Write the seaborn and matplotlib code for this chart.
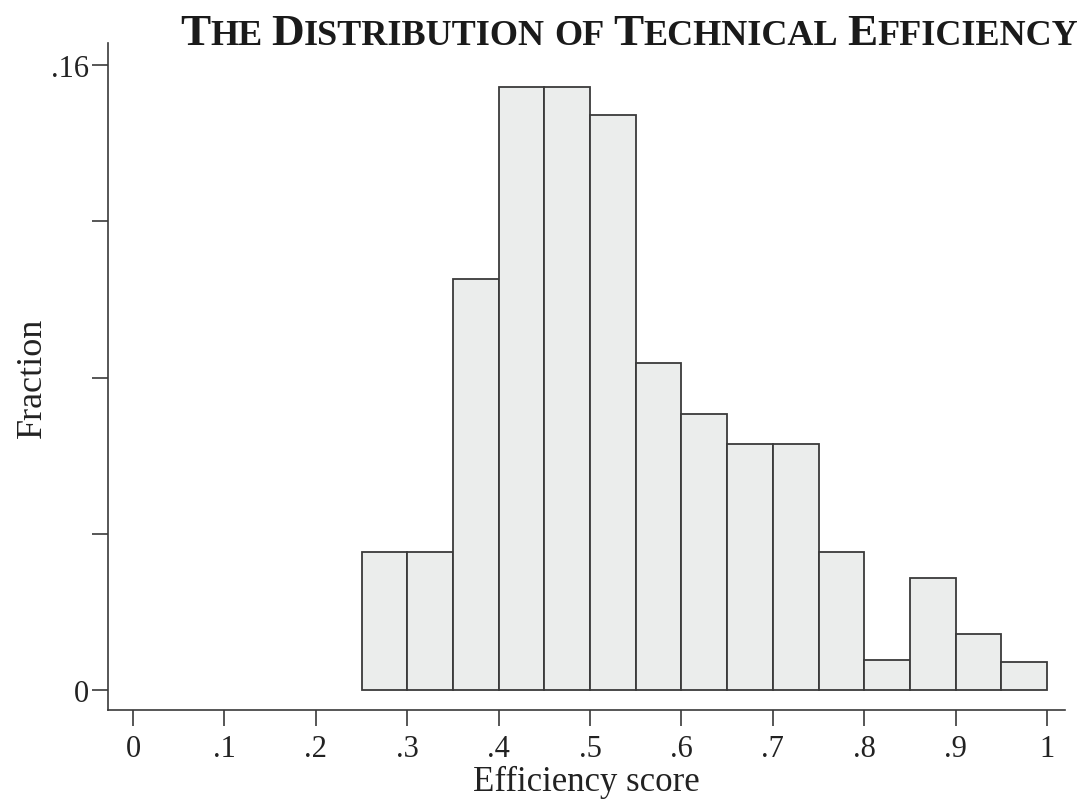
import matplotlib
matplotlib.use("Agg")
import matplotlib.pyplot as plt
import seaborn as sns
import numpy as np

# Data (fraction per bin, bin width .05)
bin_left = [0.25, 0.30, 0.35, 0.40, 0.45, 0.50, 0.55, 0.60, 0.65, 0.70, 0.75, 0.80, 0.85, 0.90, 0.95]
fraction = [0.0353, 0.0353, 0.1052, 0.1544, 0.1544, 0.1472, 0.0837, 0.0707, 0.0630, 0.0630,
            0.0353, 0.0077, 0.0287, 0.0143, 0.0072]
bin_width = 0.05
xtick_vals = [0, 0.1, 0.2, 0.3, 0.4, 0.5, 0.6, 0.7, 0.8, 0.9, 1.0]
xtick_labels = ["0", ".1", ".2", ".3", ".4", ".5", ".6", ".7", ".8", ".9", "1"]
ytick_vals = [0, 0.04, 0.08, 0.12, 0.16]
ytick_labels = ["0", "", "", "", ".16"]
title_words = ["The", "Distribution", "of", "Technical", "Efficiency"]

sns.set_theme(style="ticks")
plt.rcParams["font.family"] = ["Liberation Serif", "DejaVu Serif"]

W, H = 1083, 803
fig = plt.figure(figsize=(W / 100, H / 100), dpi=100)
ax = fig.add_axes([108 / W, 1 - 711 / H, (1065 - 108) / W, (711 - 44) / H])

centers = [b + bin_width / 2 for b in bin_left]
edges = [bin_left[0] + i * bin_width for i in range(len(bin_left) + 1)]
sns.histplot(x=centers, weights=fraction, bins=edges, ax=ax, stat="count",
             color="#ebedec", edgecolor="#3a3a3a", linewidth=1.3, alpha=1)

x0 = (108 - 133) / 914
x1 = (1065 - 133) / 914
ax.set_xlim(x0, x1)
ax.set_ylim((691 - 711) / 3906.25, (691 - 44) / 3906.25)

ax.set_xticks(xtick_vals)
ax.set_xticklabels(xtick_labels)
ax.set_yticks(ytick_vals)
ax.set_yticklabels(ytick_labels)
ax.tick_params(axis="both", direction="out", length=11.5, width=1.2, colors="#3a3a3a",
               labelsize=22, labelcolor="#222222")
ax.tick_params(axis="x", pad=6)
ax.tick_params(axis="y", pad=2.5)
for s in ["top", "right"]:
    ax.spines[s].set_visible(False)
for s in ["left", "bottom"]:
    ax.spines[s].set_linewidth(1.2)
    ax.spines[s].set_color("#3a3a3a")

ax.set_xlabel("Efficiency score", fontsize=25, color="#222222", labelpad=1)
ax.set_ylabel("Fraction", fontsize=26, color="#222222", labelpad=1)

# Small-caps title built from pieces
def draw_title(big):
    small = big * 0.80
    pieces = []
    for i, w in enumerate(title_words):
        if w[0].isupper():
            pieces.append((w[0], big))
            pieces.append((w[1:].upper(), small))
        else:
            pieces.append((w.upper(), small))
        if i < len(title_words) - 1:
            pieces.append((" ", small))
    return pieces

renderer = fig.canvas.get_renderer()
big = 22
pieces = draw_title(big)
texts = []
for txt, sz in pieces:
    t = fig.text(0, 0, txt, fontsize=sz, fontweight="bold", color="#1a1a1a", va="baseline")
    texts.append(t)
widths = [t.get_window_extent(renderer).width if t.get_text().strip() else
          t.get_fontsize() * 0.25 * 100 / 72 for t in texts]
total = sum(widths)
scale = (1075 - 180) / total
for t in texts:
    t.remove()
pieces = draw_title(big * scale)
texts = []
for txt, sz in pieces:
    t = fig.text(0, 0, txt, fontsize=sz, fontweight="bold", color="#1a1a1a", va="baseline")
    texts.append(t)
xpos = 180
for t in texts:
    w = t.get_window_extent(renderer).width if t.get_text().strip() else t.get_fontsize() * 0.25 * 100 / 72
    t.set_position((xpos / W, 1 - 45 / H))
    xpos += w

fig.savefig("out.png", dpi=100)
